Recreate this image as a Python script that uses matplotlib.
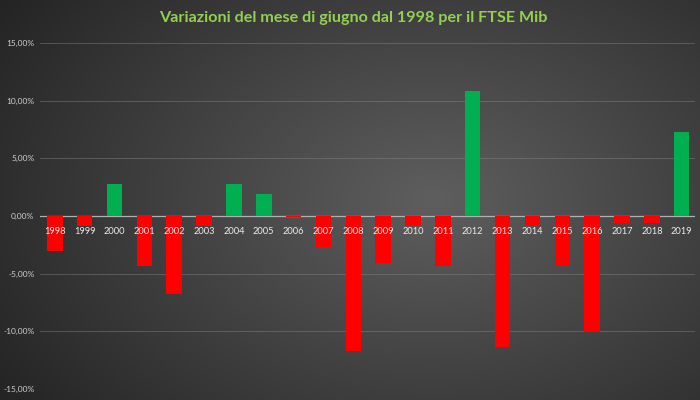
import numpy as np
import matplotlib
matplotlib.use('Agg')
import matplotlib.pyplot as plt
from matplotlib.ticker import FuncFormatter, MultipleLocator

plt.rcParams['font.family'] = ['Lato', 'DejaVu Sans']

# June change of the FTSE Mib, per year (%)
years = [str(y) for y in range(1998, 2020)]
changes = [-3.0, -0.9, 2.8, -4.3, -6.8, -0.9, 2.8, 1.9, -0.1, -2.7, -11.7,
           -4.1, -0.9, -4.35, 10.8, -11.4, -0.9, -4.35, -10.1, -0.65, -0.65, 7.25]
title = 'Variazioni del mese di giugno dal 1998 per il FTSE Mib'

fig = plt.figure(figsize=(7, 4), dpi=100)

# background: radial grey gradient
bg = fig.add_axes([0, 0, 1, 1], zorder=-10)
gx, gy = np.meshgrid(np.linspace(0, 1, 350), np.linspace(0, 1, 200))
r = np.sqrt(((gx - 0.62) / 0.75) ** 2 + ((gy - 0.5) / 0.9) ** 2)
shade = np.clip(0.37 - 0.23 * r, 0.14, 0.37)
bg.imshow(np.dstack([shade] * 3), extent=[0, 1, 0, 1], aspect='auto', origin='lower')
bg.axis('off')

ax = fig.add_axes([0.057, 0.0275, 0.936, 0.865])
ax.patch.set_alpha(0)
x = np.arange(len(years))
colors = ['#00b050' if v > 0 else '#ff0000' for v in changes]
ax.bar(x, changes, width=0.52, color=colors, zorder=3)

for xi, lab in zip(x, years):
    ax.text(xi, -1.35, lab, ha='center', va='center', color='#ececec',
            fontsize=6.7, zorder=4)

ax.set_ylim(-15, 15)
ax.set_xlim(-0.5, 21.45)
ax.yaxis.set_major_locator(MultipleLocator(5))
ax.yaxis.set_major_formatter(FuncFormatter(lambda v, p: f'{v:.2f}'.replace('.', ',') + '%'))
ax.set_xticks([])
ax.tick_params(axis='y', length=0, labelsize=6, labelcolor='#d0d0d0', pad=4)
ax.grid(axis='y', color='#8a8a8a', linewidth=0.6, alpha=0.5, zorder=0)
ax.axhline(0, color='#b0b0b0', linewidth=0.9, zorder=2)
for s in ax.spines.values():
    s.set_visible(False)

fig.text(0.504, 0.955, title, ha='center', va='center', color='#92d050',
         fontsize=11.6, fontweight='bold')

fig.savefig('out.png', dpi=100)
